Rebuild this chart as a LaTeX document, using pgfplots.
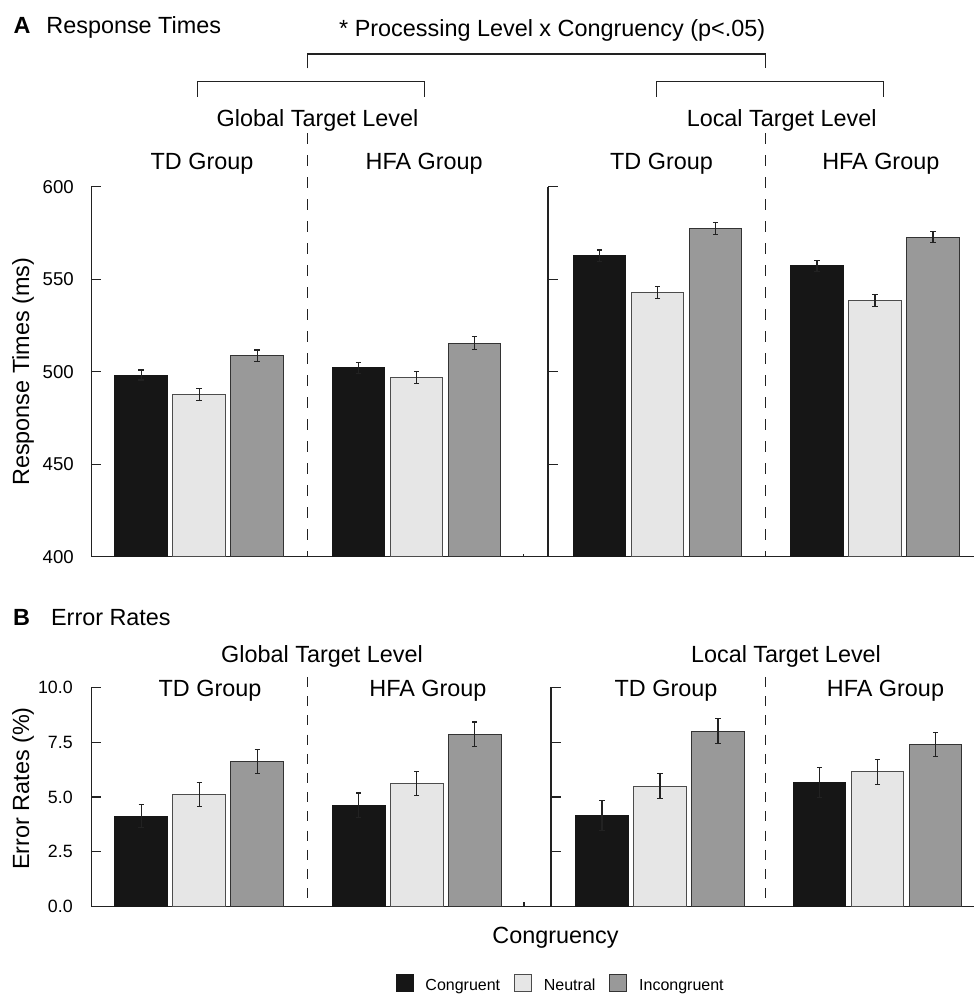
\documentclass[border=0pt]{standalone}
\usepackage{fontspec}
\setmainfont{Liberation Sans}
\usepackage{pgfplots}
\pgfplotsset{compat=1.18}
\definecolor{cong}{HTML}{161616}
\definecolor{neut}{HTML}{E6E6E6}
\definecolor{incg}{HTML}{999999}
\definecolor{axc}{HTML}{222222}
\newcommand{\mainfs}{\fontsize{11.7}{14}\selectfont}
\newcommand{\lstrut}{\rule[-0.3pt]{0pt}{8.5pt}}
\tikzset{
  dashA/.style={line width=0.6pt, axc, dash pattern=on 5.6pt off 5.4pt},
  dashB/.style={line width=0.6pt, axc, dash pattern=on 5pt off 4.6pt},
}
\pgfplotsset{
  panel/.style={
    scale only axis, anchor=south west,
    axis lines*=left, axis line style={-, line width=0.6pt, axc},
    xtick=\empty, tick align=inside, major tick length=5pt,
    ytick style={line width=0.6pt, axc},
    tick label style={font=\fontsize{9.3}{11}\selectfont},
    yticklabel style={inner sep=0pt, xshift=-5pt},
    /pgf/number format/assume math mode=true,
    clip mode=individual,
    enlargelimits=false,
  },
  ebars/.style={error bars/.cd, y dir=both, y explicit, error mark=|,
    error bar style={line width=0.55pt, axc},
    error mark options={axc, line width=0.55pt, mark size=1.3pt}},
  bC/.style={ybar, bar width=0.91, bar shift=0pt, fill=cong, draw=cong, line width=0.5pt},
  bN/.style={ybar, bar width=0.91, bar shift=0pt, fill=neut, draw=black!70, line width=0.5pt},
  bI/.style={ybar, bar width=0.91, bar shift=0pt, fill=incg, draw=black!80, line width=0.5pt},
}
\begin{document}
\begin{tikzpicture}
\useasboundingbox (0,0) rectangle (487pt,497pt);
% ---------------- Panel A: global ----------------
\begin{axis}[panel, at={(45.55pt,218.65pt)}, width=228.45pt, height=185pt,
  xmin=-0.862, xmax=7.016, ymin=400, ymax=600, ytick={400,450,500,550,600},
  yticklabel style={xshift=-3.5pt}]
\addplot[bC, ebars] coordinates {(0,498.2) +- (0,2.7) (3.75,502.0) +- (0,3.1)};
\addplot[bN, ebars] coordinates {(1,487.5) +- (0,3.2) (4.75,496.8) +- (0,3.2)};
\addplot[bI, ebars] coordinates {(2,508.5) +- (0,3.2) (5.75,515.5) +- (0,3.3)};
\draw[dashA] (axis cs:2.865,629) -- (axis cs:2.865,400);
\draw[line width=0.6pt, axc] (axis cs:6.6,400) -- (axis cs:6.6,401.3);
\end{axis}
% ---------------- Panel A: local ----------------
\begin{axis}[panel, at={(274pt,218.65pt)}, width=213pt, height=185pt,
  xmin=-0.888, xmax=6.457, ymin=400, ymax=600, ytick={400,450,500,550,600}, yticklabels={,,,,}]
\addplot[bC, ebars] coordinates {(0,562.6) +- (0,3.2) (3.75,557.2) +- (0,2.8)};
\addplot[bN, ebars] coordinates {(1,542.8) +- (0,3.2) (4.75,538.5) +- (0,3.3)};
\addplot[bI, ebars] coordinates {(2,577.5) +- (0,3.2) (5.75,572.8) +- (0,3.1)};
\draw[dashA] (axis cs:2.866,629) -- (axis cs:2.866,400);
\end{axis}
% ---------------- Panel B: global ----------------
\begin{axis}[panel, at={(45.55pt,43.65pt)}, width=229.95pt, height=109.7pt,
  xmin=-0.862, xmax=7.067, ymin=0, ymax=10, ytick={0,2.5,5,7.5,10},
  yticklabel style={/pgf/number format/.cd, fixed, fixed zerofill, precision=1, /tikz/.cd, xshift=-4pt, font=\fontsize{8.9}{11}\selectfont},
  legend style={at={(1.019,-0.3505)}, anchor=center, draw=none, fill=none,
    legend columns=3, font=\fontsize{8}{9}\selectfont, inner sep=0pt,
    nodes={inner sep=0pt},
    /tikz/every odd column/.append style={column sep=5.85pt},
    /tikz/every even column/.append style={column sep=7pt}},
  legend image code/.code={\draw[#1] (0pt,-3.95pt) rectangle (8.5pt,4.55pt);}]
\addplot[bC, ebars] coordinates {(0,4.12) +- (0,0.53) (3.75,4.62) +- (0,0.56)};
\addplot[bN, ebars] coordinates {(1,5.12) +- (0,0.55) (4.75,5.62) +- (0,0.55)};
\addplot[bI, ebars] coordinates {(2,6.62) +- (0,0.55) (5.75,7.87) +- (0,0.55)};
\legend{\lstrut Congruent, \lstrut Neutral, \lstrut Incongruent}
\draw[dashB] (axis cs:2.865,10.47) -- (axis cs:2.865,0);
\draw[line width=0.6pt, axc] (axis cs:6.6,0) -- (axis cs:6.6,0.2);
\end{axis}
% ---------------- Panel B: local ----------------
\begin{axis}[panel, at={(275.5pt,43.65pt)}, width=211.5pt, height=109.7pt,
  xmin=-0.879, xmax=6.414, ymin=0, ymax=10, ytick={0,2.5,5,7.5,10}, yticklabels={,,,,}]
\addplot[bC, ebars] coordinates {(0,4.15) +- (0,0.68) (3.75,5.65) +- (0,0.69)};
\addplot[bN, ebars] coordinates {(1,5.5) +- (0,0.56) (4.75,6.15) +- (0,0.56)};
\addplot[bI, ebars] coordinates {(2,8.0) +- (0,0.56) (5.75,7.4) +- (0,0.56)};
\draw[dashB] (axis cs:2.82,10.47) -- (axis cs:2.82,0);
\end{axis}
% ---------------- Texts and brackets ----------------
\node[anchor=base west, inner sep=0pt, font=\mainfs\bfseries] at (6.65pt,480.35pt) {A};
\node[anchor=base west, inner sep=0pt, font=\mainfs] at (23pt,480.35pt) {Response Times};
\node[anchor=base, inner sep=0pt, font=\mainfs] at (276.1pt,478.65pt) {* Processing Level x Congruency (p<.05)};
\draw[line width=0.6pt, axc] (153.65pt,462.85pt) -- (153.65pt,470pt) -- (382.85pt,470pt) -- (382.85pt,462.85pt);
\draw[line width=0.6pt, axc] (98.85pt,448.65pt) -- (98.85pt,456.15pt) -- (212.15pt,456.15pt) -- (212.15pt,448.65pt);
\draw[line width=0.6pt, axc] (328.35pt,448.65pt) -- (328.35pt,456.15pt) -- (441.85pt,456.15pt) -- (441.85pt,448.65pt);
\node[anchor=base, inner sep=0pt, font=\mainfs] at (158.75pt,433.65pt) {Global Target Level};
\node[anchor=base, inner sep=0pt, font=\mainfs] at (390.85pt,433.65pt) {Local Target Level};
\node[anchor=base, inner sep=0pt, font=\mainfs] at (101pt,412pt) {TD Group};
\node[anchor=base, inner sep=0pt, font=\mainfs] at (212.1pt,412pt) {HFA Group};
\node[anchor=base, inner sep=0pt, font=\mainfs] at (330.75pt,412pt) {TD Group};
\node[anchor=base, inner sep=0pt, font=\mainfs] at (440.4pt,412pt) {HFA Group};
\node[rotate=90, anchor=base, inner sep=0pt, font=\mainfs] at (14.5pt,311.15pt) {Response Times (ms)};
\node[anchor=base west, inner sep=0pt, font=\mainfs\bfseries] at (6.35pt,184.15pt) {B};
\node[anchor=base west, inner sep=0pt, font=\mainfs] at (25.35pt,184.15pt) {Error Rates};
\node[anchor=base, inner sep=0pt, font=\mainfs] at (161pt,165.5pt) {Global Target Level};
\node[anchor=base, inner sep=0pt, font=\mainfs] at (393pt,165.5pt) {Local Target Level};
\node[anchor=base, inner sep=0pt, font=\mainfs] at (105pt,148.5pt) {TD Group};
\node[anchor=base, inner sep=0pt, font=\mainfs] at (214pt,148.5pt) {HFA Group};
\node[anchor=base, inner sep=0pt, font=\mainfs] at (333pt,148.5pt) {TD Group};
\node[anchor=base, inner sep=0pt, font=\mainfs] at (442.75pt,148.5pt) {HFA Group};
\node[rotate=90, anchor=base, inner sep=0pt, font=\mainfs] at (14.5pt,102.75pt) {Error Rates (\%)};
\node[anchor=base, inner sep=0pt, font=\mainfs] at (277.75pt,25.35pt) {Congruency};
\end{tikzpicture}
\end{document}
